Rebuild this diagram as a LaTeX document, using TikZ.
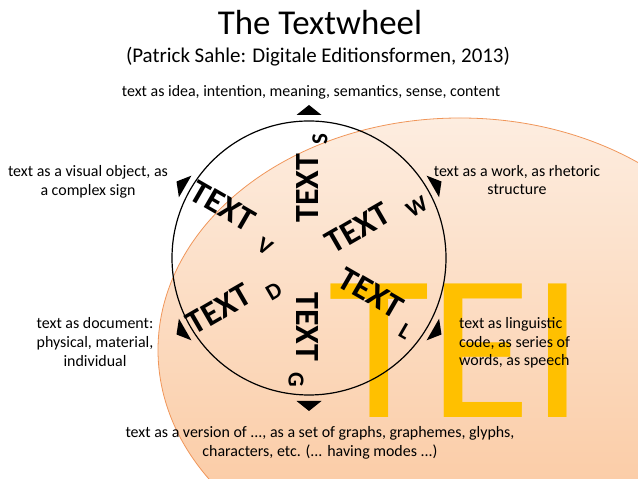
\documentclass[tikz,border=0pt]{standalone}
\usepackage{fontspec}
\setmainfont{Carlito}
\definecolor{teiyellow}{RGB}{255,192,0}
\definecolor{ellipsetop}{RGB}{253,237,224}
\definecolor{ellipsebot}{RGB}{250,196,152}
\definecolor{ellipseline}{RGB}{240,150,90}

\begin{document}
\begin{tikzpicture}[x=1bp,y=1bp,
    lbl/.style={align=center,font=\fontsize{16}{18.8}\selectfont,inner sep=0pt},
    word/.style={font=\bfseries\fontsize{34}{34}\selectfont,inner sep=0pt},
    sub/.style={font=\bfseries\fontsize{23}{23}\selectfont,inner sep=0pt},
    wheeltip/.pic={\fill (0,-12.5) -- (10,0) -- (0,12.5) -- cycle;}]
\useasboundingbox (0,0) rectangle (638,479);
\begin{scope}
  \clip (0,0) rectangle (638,479);
  \shadedraw[top color=ellipsetop,bottom color=ellipsebot,draw=ellipseline,line width=0.8bp]
    (460,129) ellipse [x radius=302,y radius=232];
\end{scope}
\node[anchor=base,inner sep=0pt,text=teiyellow,font=\fontsize{209}{209}\selectfont] (tei) at (456,61) {TEI};
% title
\node[anchor=base,inner sep=0pt,font=\fontsize{35}{35}\selectfont] (title) at (320,444) {The Textwheel};
\node[anchor=base,inner sep=0pt,font=\fontsize{21}{21}\selectfont] (src) at (318,416) {(Patrick Sahle: Digitale Editionsformen, 2013)};
% the wheel
\coordinate (wc) at (309,221);
\draw[line width=1.2bp] (wc) circle [radius=137];
\begin{scope}[shift={(wc)}]
  \node[word,rotate=90] (tS) at (-1,70) {TEXT};
  \node[sub,rotate=90] (sS) at (11,119) {S};
  \node[word,rotate=30] (tW) at (49,30) {TEXT};
  \node[sub,rotate=30] (sW) at (108,51) {W};
  \node[word,rotate=-30] (tL) at (62,-35) {TEXT};
  \node[sub,rotate=-30] (sL) at (96,-73) {L};
  \node[word,rotate=-90] (tG) at (-2,-69) {TEXT};
  \node[sub,rotate=-90] (sG) at (-13,-122) {G};
  \node[word,rotate=30] (tD) at (-90,-51) {TEXT};
  \node[sub,rotate=30] (sD) at (-35,-33) {D};
  \node[word,rotate=-30] (tV) at (-86,52) {TEXT};
  \node[sub,rotate=-30] (sV) at (-44,12) {V};
  \foreach \a in {90,30,-30,-90,-150,150}
    \pic[rotate=\a] at (\a:143) {wheeltip};
\end{scope}
% the six readings
\node[lbl,anchor=base] (lS) at (311,382) {text as idea, intention, meaning, semantics, sense, content};
\node[lbl] (lW) at (517,299) {text as a work, as rhetoric\\structure};
\node[lbl,align=left,anchor=west] (lL) at (459,136) {text as linguistic\\code, as series of\\words, as speech};
\node[lbl] (lG) at (320,36) {text as a version of ..., as a set of graphs, graphemes, glyphs,\\characters, etc. (... having modes ...)};
\node[lbl] (lD) at (95,137) {text as document:\\physical, material,\\individual};
\node[lbl] (lV) at (88,297) {text as a visual object, as\\a complex sign};
\end{tikzpicture}
\end{document}
